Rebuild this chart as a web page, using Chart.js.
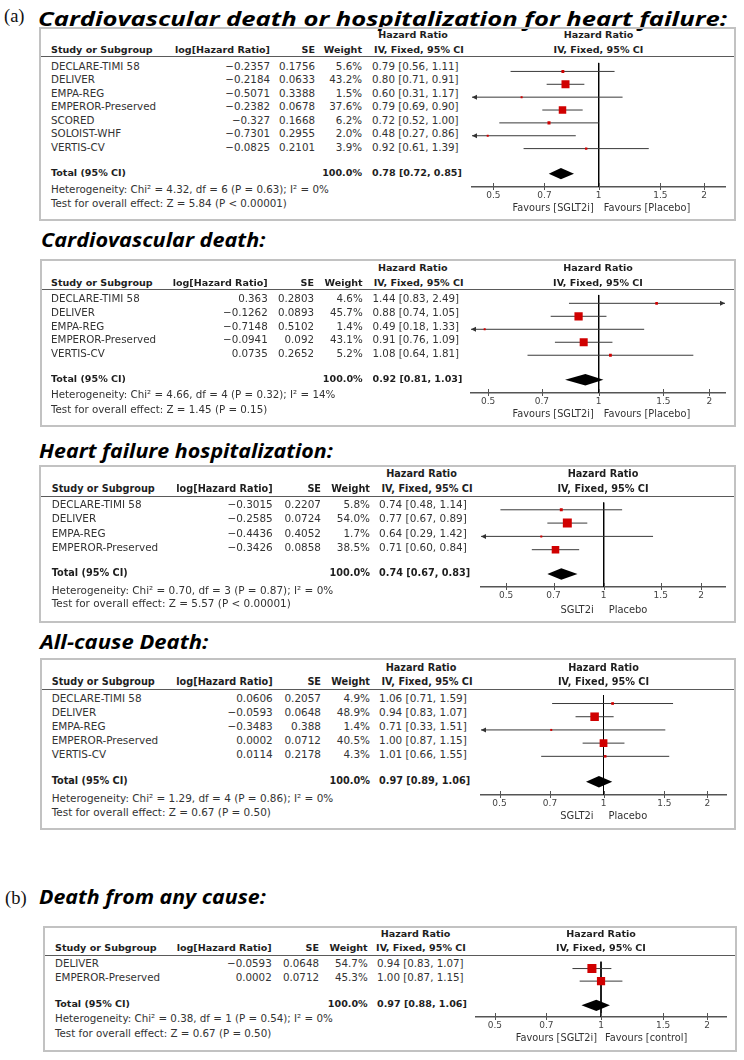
<!DOCTYPE html>
<html>
<head>
<meta charset="utf-8">
<script src="https://cdn.jsdelivr.net/npm/chart.js@4.4.1/dist/chart.umd.min.js"></script>
<style>
body { margin: 0; background: #fff; }
#fig { position: relative; width: 744px; height: 1060px; overflow: hidden; font-family: "DejaVu Sans", sans-serif; color: #333; }
.t { position: absolute; white-space: nowrap; line-height: 12px; height: 12px; }
.b { font-weight: bold; color: #1e1e1e; }
.title { position: absolute; white-space: nowrap; font: italic 700 19px "Open Sans", sans-serif; line-height: 24px; color: #000; transform-origin: 0 0; }
.lab { position: absolute; font: 18.5px "Liberation Serif", serif; line-height: 24px; color: #111; }
.box { position: absolute; border: 2px solid #c2c2c2; box-sizing: border-box; }
.rule { position: absolute; height: 1px; background: #5a5a5a; }
canvas { position: absolute; }
</style>
</head>
<body>
<div id="fig"></div>
<script>
// ticks shared by every forest plot
const hrTicks = [0.5, 0.7, 1, 1.5, 2];

// (a) cardiovascular death or hospitalization for heart failure
const cvHfStudy = ['DECLARE-TIMI 58', 'DELIVER', 'EMPA-REG', 'EMPEROR-Preserved', 'SCORED', 'SOLOIST-WHF', 'VERTIS-CV'];
const cvHfLogHR = [-0.2357, -0.2184, -0.5071, -0.2382, -0.327, -0.7301, -0.0825];
const cvHfSE = [0.1756, 0.0633, 0.3388, 0.0678, 0.1668, 0.2955, 0.2101];
const cvHfWeight = [5.6, 43.2, 1.5, 37.6, 6.2, 2.0, 3.9];
const cvHfHR = [0.79, 0.80, 0.60, 0.79, 0.72, 0.48, 0.92];
const cvHfLo = [0.56, 0.71, 0.31, 0.69, 0.52, 0.27, 0.61];
const cvHfHi = [1.11, 0.91, 1.17, 0.90, 1.00, 0.86, 1.39];
const cvHfTotal = [0.78, 0.72, 0.85];
const cvHfStats = ['Heterogeneity: Chi² = 4.32, df = 6 (P = 0.63); I² = 0%', 'Test for overall effect: Z = 5.84 (P < 0.00001)'];

// cardiovascular death
const cvdStudy = ['DECLARE-TIMI 58', 'DELIVER', 'EMPA-REG', 'EMPEROR-Preserved', 'VERTIS-CV'];
const cvdLogHR = [0.363, -0.1262, -0.7148, -0.0941, 0.0735];
const cvdSE = [0.2803, 0.0893, 0.5102, 0.092, 0.2652];
const cvdWeight = [4.6, 45.7, 1.4, 43.1, 5.2];
const cvdHR = [1.44, 0.88, 0.49, 0.91, 1.08];
const cvdLo = [0.83, 0.74, 0.18, 0.76, 0.64];
const cvdHi = [2.49, 1.05, 1.33, 1.09, 1.81];
const cvdTotal = [0.92, 0.81, 1.03];
const cvdStats = ['Heterogeneity: Chi² = 4.66, df = 4 (P = 0.32); I² = 14%', 'Test for overall effect: Z = 1.45 (P = 0.15)'];

// heart failure hospitalization
const hfhStudy = ['DECLARE-TIMI 58', 'DELIVER', 'EMPA-REG', 'EMPEROR-Preserved'];
const hfhLogHR = [-0.3015, -0.2585, -0.4436, -0.3426];
const hfhSE = [0.2207, 0.0724, 0.4052, 0.0858];
const hfhWeight = [5.8, 54.0, 1.7, 38.5];
const hfhHR = [0.74, 0.77, 0.64, 0.71];
const hfhLo = [0.48, 0.67, 0.29, 0.60];
const hfhHi = [1.14, 0.89, 1.42, 0.84];
const hfhTotal = [0.74, 0.67, 0.83];
const hfhStats = ['Heterogeneity: Chi² = 0.70, df = 3 (P = 0.87); I² = 0%', 'Test for overall effect: Z = 5.57 (P < 0.00001)'];

// all-cause death
const acdStudy = ['DECLARE-TIMI 58', 'DELIVER', 'EMPA-REG', 'EMPEROR-Preserved', 'VERTIS-CV'];
const acdLogHR = [0.0606, -0.0593, -0.3483, 0.0002, 0.0114];
const acdSE = [0.2057, 0.0648, 0.388, 0.0712, 0.2178];
const acdWeight = [4.9, 48.9, 1.4, 40.5, 4.3];
const acdHR = [1.06, 0.94, 0.71, 1.00, 1.01];
const acdLo = [0.71, 0.83, 0.33, 0.87, 0.66];
const acdHi = [1.59, 1.07, 1.51, 1.15, 1.55];
const acdTotal = [0.97, 0.89, 1.06];
const acdStats = ['Heterogeneity: Chi² = 1.29, df = 4 (P = 0.86); I² = 0%', 'Test for overall effect: Z = 0.67 (P = 0.50)'];

// (b) death from any cause
const dacStudy = ['DELIVER', 'EMPEROR-Preserved'];
const dacLogHR = [-0.0593, 0.0002];
const dacSE = [0.0648, 0.0712];
const dacWeight = [54.7, 45.3];
const dacHR = [0.94, 1.00];
const dacLo = [0.83, 0.87];
const dacHi = [1.07, 1.15];
const dacTotal = [0.97, 0.88, 1.06];
const dacStats = ['Heterogeneity: Chi² = 0.38, df = 1 (P = 0.54); I² = 0%', 'Test for overall effect: Z = 0.67 (P = 0.50)'];

const panels = [
  { label: '(a)', title: 'Cardiovascular death or hospitalization for heart failure:',
    study: cvHfStudy, logHR: cvHfLogHR, se: cvHfSE, weight: cvHfWeight, hr: cvHfHR, lo: cvHfLo, hi: cvHfHi, total: cvHfTotal, stats: cvHfStats,
    fav: ['Favours [SGLT2i]', 'Favours [Placebo]'],
    L: { lx: 4, lb: 22.7, tx: 38, tb: 26, tw: 689, box: [39, 27, 736, 221], h1: 35, h2: 50, rule: 56.5, row0: 65.7, pitch: 13.5,
         tot: 173, het: 189, test: 203, axis: 187, axL: 472, axR: 725, x1: 598.7, k: 152,
         cS: 51, cL: 270, cE: 315, cW: 362, cH: 372, hrC1: 413, hrC2: 419, favY: 208, fl: 5, fr: 5, fs: 10.3 } },
  { title: 'Cardiovascular death:',
    study: cvdStudy, logHR: cvdLogHR, se: cvdSE, weight: cvdWeight, hr: cvdHR, lo: cvdLo, hi: cvdHi, total: cvdTotal, stats: cvdStats,
    fav: ['Favours [SGLT2i]', 'Favours [Placebo]'],
    L: { tx: 40.5, tb: 247.7, tw: 224, box: [40, 259, 736, 427], h1: 268, h2: 283, rule: 289, row0: 298, pitch: 13.75,
         tot: 379, het: 394, test: 409, axis: 393, axL: 471, axR: 725, x1: 598.7, k: 159.5,
         cS: 51, cL: 267.7, cE: 314, cW: 362.7, cH: 372.5, hrC1: 412.7, hrC2: 418.7, favY: 414, fl: 5, fr: 5, fs: 10.3 } },
  { title: 'Heart failure hospitalization:',
    study: hfhStudy, logHR: hfhLogHR, se: hfhSE, weight: hfhWeight, hr: hfhHR, lo: hfhLo, hi: hfhHi, total: hfhTotal, stats: hfhStats,
    fav: ['SGLT2i', 'Placebo'],
    L: { tx: 39.3, tb: 458, tw: 294, box: [39, 465, 736, 623], h1: 474, h2: 489, rule: 496, row0: 504, pitch: 14.3,
         tot: 573, het: 590, test: 603.3, axis: 587, axL: 481, axR: 725, x1: 603.7, k: 140.7,
         cS: 51.7, cL: 272.7, cE: 321, cW: 370, cH: 379, hrC1: 421.5, hrC2: 427, favY: 610, fl: 10, fr: 5, fs: 10.45 } },
  { title: 'All-cause Death:',
    study: acdStudy, logHR: acdLogHR, se: acdSE, weight: acdWeight, hr: acdHR, lo: acdLo, hi: acdHi, total: acdTotal, stats: acdStats,
    fav: ['SGLT2i', 'Placebo'],
    L: { tx: 40, tb: 649, tw: 168, box: [40, 658, 736, 830], h1: 668, h2: 682, rule: 689, row0: 698, pitch: 14,
         tot: 781, het: 798, test: 812, axis: 795, axL: 481, axR: 726, x1: 603.5, k: 150,
         cS: 51.7, cL: 272.7, cE: 321, cW: 370, cH: 379, hrC1: 421, hrC2: 427, favY: 816, fl: 10, fr: 5, fs: 10.45 } },
  { label: '(b)', title: 'Death from any cause:',
    study: dacStudy, logHR: dacLogHR, se: dacSE, weight: dacWeight, hr: dacHR, lo: dacLo, hi: dacHi, total: dacTotal, stats: dacStats,
    fav: ['Favours [SGLT2i]', 'Favours [control]'],
    L: { lx: 5, lb: 904, tx: 39.3, tb: 904, tw: 227, box: [43, 926, 737, 1052], h1: 934, h2: 948, rule: 955, row0: 963, pitch: 14,
         tot: 1004, het: 1018, test: 1033, axis: 1017, axL: 476, axR: 726, x1: 601, k: 153.2,
         cS: 55, cL: 271.7, cE: 319, cW: 367.7, cH: 377, hrC1: 415.5, hrC2: 421, favY: 1038, fl: 4, fr: 4, fs: 10.3 } }
];

const fig = document.getElementById('fig');

function el(cls, text) {
  const d = document.createElement('div');
  d.className = cls;
  if (text !== undefined) d.textContent = text;
  fig.appendChild(d);
  return d;
}

function txt(s, x, cy, align, fs, bold) {
  const d = el('t' + (bold ? ' b' : ''), s);
  d.style.top = (cy - 6) + 'px';
  d.style.fontSize = (bold ? fs * 0.93 : fs) + 'px';
  if (align === 'r') d.style.right = (744 - x) + 'px';
  else if (align === 'c') { d.style.left = x + 'px'; d.style.transform = 'translateX(-50%)'; }
  else d.style.left = x + 'px';
  return d;
}

function arrow(ctx, x, y, dir) {
  ctx.beginPath();
  ctx.moveTo(x, y);
  ctx.lineTo(x - dir * 5, y - 2.5);
  ctx.lineTo(x - dir * 5, y + 2.5);
  ctx.closePath();
  ctx.fill();
}

const forestPlugin = {
  id: 'forest',
  afterDatasetsDraw(chart, args, o) {
    const { ctx, chartArea: a } = chart;
    const x = chart.scales.x, y = chart.scales.y;
    ctx.save();
    ctx.fillStyle = '#333';
    o.lo.forEach((lo, i) => {
      const py = y.getPixelForValue(i);
      if (lo < x.min) arrow(ctx, a.left, py, -1);
      if (o.hi[i] > x.max) arrow(ctx, a.right, py, 1);
    });
    // pooled estimate diamond
    const ty = y.getPixelForValue(o.totY);
    ctx.beginPath();
    ctx.moveTo(x.getPixelForValue(o.total[1]), ty);
    ctx.lineTo(x.getPixelForValue(o.total[0]), ty - 5.7);
    ctx.lineTo(x.getPixelForValue(o.total[2]), ty);
    ctx.lineTo(x.getPixelForValue(o.total[0]), ty + 5.7);
    ctx.closePath();
    ctx.fillStyle = '#000';
    ctx.fill();
    // tick marks crossing the axis
    ctx.strokeStyle = '#555';
    ctx.lineWidth = 1;
    x.ticks.forEach(t => {
      const px = Math.round(x.getPixelForValue(t.value)) + 0.5;
      ctx.beginPath();
      ctx.moveTo(px, a.bottom - 4);
      ctx.lineTo(px, a.bottom + 3);
      ctx.stroke();
    });
    ctx.restore();
  }
};

function forest(p) {
  const L = p.L;
  const padX = 10;
  const w = L.axR - L.axL + 2 * padX;
  const h = L.axis - L.rule + 22;
  const cv = document.createElement('canvas');
  cv.width = w; cv.height = h;
  cv.style.width = w + 'px'; cv.style.height = h + 'px';
  cv.style.left = (L.axL - padX) + 'px';
  cv.style.top = L.rule + 'px';
  fig.appendChild(cv);

  const yMin = -(L.row0 - L.rule) / L.pitch;
  const yMax = (L.axis - L.row0) / L.pitch;
  const totY = (L.tot - L.row0) / L.pitch;
  const xMin = Math.exp((L.axL - L.x1) / L.k);
  const xMax = Math.exp((L.axR - L.x1) / L.k);

  const ci = [];
  p.lo.forEach((lo, i) => { ci.push({ x: lo, y: i }, { x: p.hi[i], y: i }, { x: 1, y: null }); });
  const est = p.logHR.map((v, i) => ({ x: Math.exp(v), y: i }));
  const radii = p.weight.map(wt => Math.max(2, 1.22 * Math.sqrt(wt)) / Math.SQRT2);

  return new Chart(cv, {
    type: 'scatter',
    data: {
      datasets: [
        { data: est, pointStyle: 'rect', pointRadius: radii, backgroundColor: '#d00000', borderWidth: 0, order: 0 },
        { data: ci, showLine: true, spanGaps: false, borderColor: '#3a3a3a', borderWidth: 1, pointRadius: 0, order: 1 },
        { data: [{ x: 1, y: yMin }, { x: 1, y: yMax }], showLine: true, borderColor: '#000', borderWidth: 1, pointRadius: 0, order: 2 }
      ]
    },
    options: {
      responsive: false,
      animation: false,
      events: [],
      layout: { padding: { left: padX, right: padX, top: 0, bottom: 0 } },
      plugins: {
        legend: { display: false },
        tooltip: { enabled: false },
        forest: { lo: p.lo, hi: p.hi, total: p.total, totY: totY }
      },
      scales: {
        x: {
          type: 'logarithmic', min: xMin, max: xMax,
          grid: { display: false, drawTicks: false },
          border: { display: true, color: '#555', width: 1.5 },
          afterBuildTicks: s => { s.ticks = hrTicks.map(v => ({ value: v })); },
          afterFit: s => { s.height = 22; },
          ticks: { autoSkip: false, maxRotation: 0, padding: 3, color: '#444',
                   font: { family: 'DejaVu Sans', size: 9 }, callback: v => String(v) }
        },
        y: { type: 'linear', display: false, reverse: true, min: yMin, max: yMax }
      }
    },
    plugins: [forestPlugin]
  });
}

panels.forEach(p => {
  const L = p.L, fs = L.fs;
  if (p.label) {
    const lb = el('lab', p.label);
    lb.style.left = L.lx + 'px';
    lb.style.top = (L.lb - 18.4) + 'px';
  }
  const t = el('title', p.title);
  t.style.left = L.tx + 'px';
  t.style.top = (L.tb - 19.4) + 'px';
  t.style.transform = 'scaleX(' + (L.tw / t.offsetWidth) + ')';

  const bx = el('box');
  bx.style.left = L.box[0] + 'px';
  bx.style.top = L.box[1] + 'px';
  bx.style.width = (L.box[2] - L.box[0]) + 'px';
  bx.style.height = (L.box[3] - L.box[1]) + 'px';

  const r = el('rule');
  r.style.left = (L.box[0] + 2) + 'px';
  r.style.width = (L.box[2] - L.box[0] - 4) + 'px';
  r.style.top = (L.rule - 0.5) + 'px';

  const pc = (L.axL + L.axR) / 2;
  txt('Hazard Ratio', L.hrC1, L.h1, 'c', fs, true);
  txt('IV, Fixed, 95% CI', L.hrC2, L.h2, 'c', fs, true);
  txt('Hazard Ratio', pc, L.h1, 'c', fs, true);
  txt('IV, Fixed, 95% CI', pc, L.h2, 'c', fs, true);
  txt('Study or Subgroup', L.cS, L.h2, 'l', fs, true);
  txt('log[Hazard Ratio]', L.cL, L.h2, 'r', fs, true);
  txt('SE', L.cE, L.h2, 'r', fs, true);
  txt('Weight', L.cW, L.h2, 'r', fs, true);

  p.study.forEach((s, i) => {
    const cy = L.row0 + i * L.pitch;
    txt(s, L.cS, cy, 'l', fs);
    txt(String(p.logHR[i]).replace('-', '\u2212'), L.cL, cy, 'r', fs);
    txt(String(p.se[i]), L.cE, cy, 'r', fs);
    txt(p.weight[i].toFixed(1) + '%', L.cW, cy, 'r', fs);
    txt(p.hr[i].toFixed(2) + ' [' + p.lo[i].toFixed(2) + ', ' + p.hi[i].toFixed(2) + ']', L.cH, cy, 'l', fs);
  });

  txt('Total (95% CI)', L.cS, L.tot, 'l', fs, true);
  txt('100.0%', L.cW, L.tot, 'r', fs, true);
  txt(p.total[0].toFixed(2) + ' [' + p.total[1].toFixed(2) + ', ' + p.total[2].toFixed(2) + ']', L.cH, L.tot, 'l', fs, true);
  txt(p.stats[0], L.cS, L.het, 'l', fs);
  txt(p.stats[1], L.cS, L.test, 'l', fs);

  const chart = forest(p);
  const px1 = L.axL - 10 + chart.scales.x.getPixelForValue(1);
  txt(p.fav[0], px1 - L.fl, L.favY, 'r', fs * 0.95);
  txt(p.fav[1], px1 + L.fr, L.favY, 'l', fs * 0.95);
});
</script>
</body>
</html>
